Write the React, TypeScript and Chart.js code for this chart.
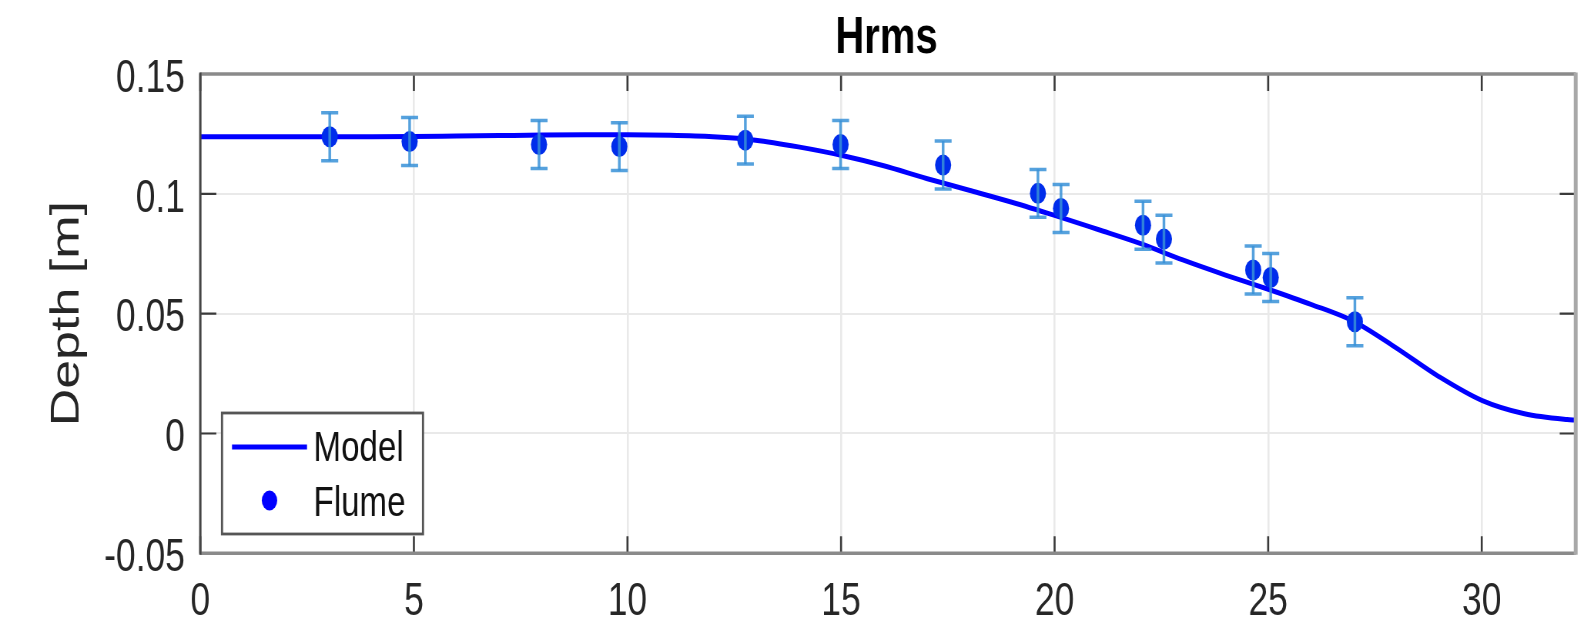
import React, { useEffect, useRef } from 'react';
import { Chart, registerables } from 'chart.js';

Chart.register(...registerables);

// ---------------- data ----------------
const TITLE = 'Hrms';
const Y_LABEL = 'Depth [m]';
const MODEL_LABEL = 'Model';
const FLUME_LABEL = 'Flume';

const modelX = [0, 1, 2, 3, 4, 5, 6, 7, 8, 9, 10, 11, 12, 13, 14, 15, 16, 17, 18, 19, 20, 21, 22, 23, 24, 25, 26, 27, 28, 29, 30, 31, 32, 32.2];
const modelY = [0.1238, 0.1238, 0.1238, 0.1238, 0.1238, 0.1239, 0.1241, 0.1243, 0.1245, 0.1246, 0.1246, 0.1244, 0.1238, 0.1224, 0.1196, 0.1161, 0.1117, 0.1064, 0.1015, 0.0965, 0.0910, 0.0852, 0.0793, 0.0724, 0.0661, 0.0602, 0.0539, 0.0468, 0.0357, 0.0237, 0.0138, 0.0082, 0.0058, 0.0056];

const flumeX = [3.03, 4.9, 7.93, 9.81, 12.76, 14.99, 17.39, 19.61, 20.15, 22.07, 22.56, 24.65, 25.06, 27.03];
const flumeY = [0.1238, 0.1218, 0.1206, 0.1197, 0.1224, 0.1206, 0.1120, 0.1002, 0.0939, 0.0869, 0.0811, 0.0682, 0.0651, 0.0466];
const flumeErr = [0.01, 0.01, 0.01, 0.01, 0.01, 0.01, 0.01, 0.01, 0.01, 0.01, 0.01, 0.01, 0.01, 0.01];

const xTicks = [0, 5, 10, 15, 20, 25, 30];
const xTickLabels = ['0', '5', '10', '15', '20', '25', '30'];
const yTicks = [-0.05, 0, 0.05, 0.1, 0.15];
const yTickLabels = ['-0.05', '0', '0.05', '0.1', '0.15'];
const xRange = [0, 32.2];
const yRange = [-0.05, 0.15];

// ---------------- layout (display pixels) ----------------
const VIEW_W = 1594;
const VIEW_H = 622;
const CANVAS_W = 2070; // drawn wider, then squeezed horizontally like the reference
const K = VIEW_W / CANVAS_W;
const sx = (v: number) => v / K;
const PLOT = { left: 200.3, right: 1575.7, top: 74, bottom: 553.3 };
const FONT = '"Liberation Sans", Arial, Helvetica, sans-serif';
const BLUE = '#0000ff';
const MARKER = 'rgb(0, 45, 235)';

function labelFor(list: number[], labels: string[], v: number) {
  const i = list.findIndex((t) => Math.abs(t - v) < 1e-9);
  return i >= 0 ? labels[i] : '';
}

const decorPlugin = {
  id: 'matlabDecor',
  afterDatasetsDraw(chart: any) {
    const ctx = chart.ctx;
    const xs = chart.scales.x;
    const ys = chart.scales.y;
    ctx.save();
    ctx.strokeStyle = 'rgba(55, 145, 215, 0.85)';
    ctx.lineCap = 'butt';
    flumeX.forEach((xv, i) => {
      const px = xs.getPixelForValue(xv);
      const top = ys.getPixelForValue(flumeY[i] + flumeErr[i]);
      const bot = ys.getPixelForValue(flumeY[i] - flumeErr[i]);
      ctx.lineWidth = 3.5;
      ctx.beginPath();
      ctx.moveTo(px, top);
      ctx.lineTo(px, bot);
      ctx.stroke();
      const hw = sx(8.5);
      ctx.lineWidth = 3.5;
      ctx.beginPath();
      ctx.moveTo(px - hw, top);
      ctx.lineTo(px + hw, top);
      ctx.moveTo(px - hw, bot);
      ctx.lineTo(px + hw, bot);
      ctx.stroke();
    });
    ctx.restore();
  },
  afterDraw(chart: any) {
    const ctx = chart.ctx;
    const a = chart.chartArea;
    const xs = chart.scales.x;
    const ys = chart.scales.y;
    ctx.save();
    ctx.lineCap = 'butt';

    // inward tick marks
    ctx.strokeStyle = '#3a3a3a';
    ctx.lineWidth = 2.6;
    xTicks.forEach((t) => {
      const px = xs.getPixelForValue(t);
      ctx.beginPath();
      ctx.moveTo(px, a.bottom);
      ctx.lineTo(px, a.bottom - 17);
      ctx.moveTo(px, a.top);
      ctx.lineTo(px, a.top + 17);
      ctx.stroke();
    });
    ctx.lineWidth = 2.2;
    yTicks.forEach((t) => {
      const py = ys.getPixelForValue(t);
      ctx.beginPath();
      ctx.moveTo(a.left, py);
      ctx.lineTo(a.left + sx(16), py);
      ctx.moveTo(a.right, py);
      ctx.lineTo(a.right - sx(16), py);
      ctx.stroke();
    });

    // axes box
    ctx.strokeStyle = '#8a8a8a';
    ctx.lineWidth = 3.5;
    ctx.beginPath();
    ctx.moveTo(a.left, a.top);
    ctx.lineTo(a.right, a.top);
    ctx.moveTo(a.left, a.bottom);
    ctx.lineTo(a.right, a.bottom);
    ctx.stroke();
    ctx.strokeStyle = '#454545';
    ctx.lineWidth = 3;
    ctx.beginPath();
    ctx.moveTo(a.left, a.top - 1.5);
    ctx.lineTo(a.left, a.bottom + 1.5);
    ctx.stroke();
    ctx.strokeStyle = '#a8a8a8';
    ctx.lineWidth = 5;
    ctx.beginPath();
    ctx.moveTo(a.right, a.top - 1.5);
    ctx.lineTo(a.right, a.bottom + 1.5);
    ctx.stroke();

    // legend
    const lx1 = sx(222), lx2 = sx(423), ly1 = 413, ly2 = 534;
    ctx.fillStyle = '#ffffff';
    ctx.fillRect(lx1, ly1, lx2 - lx1, ly2 - ly1);
    ctx.strokeStyle = '#555555';
    ctx.lineWidth = 2.8;
    ctx.strokeRect(lx1, ly1, lx2 - lx1, ly2 - ly1);
    ctx.strokeStyle = BLUE;
    ctx.lineWidth = 5;
    ctx.beginPath();
    ctx.moveTo(sx(232), 447);
    ctx.lineTo(sx(307), 447);
    ctx.stroke();
    ctx.fillStyle = BLUE;
    ctx.beginPath();
    ctx.arc(sx(269.5), 500.5, 10, 0, Math.PI * 2);
    ctx.fill();
    ctx.fillStyle = '#111111';
    ctx.font = `43px ${FONT}`;
    ctx.textAlign = 'left';
    ctx.textBaseline = 'middle';
    const ds = chart.data.datasets;
    ctx.fillText(ds[1].label, sx(313.5), 449.2);
    ctx.fillText(ds[0].label, sx(313.5), 504.5);

    // title
    ctx.fillStyle = '#000000';
    ctx.font = `bold 52px ${FONT}`;
    ctx.textAlign = 'center';
    ctx.fillText(TITLE, (a.left + a.right) / 2 - sx(1.5), 38.3);
    ctx.restore();
  },
};

export default function App() {
  const ref = useRef<HTMLCanvasElement | null>(null);

  useEffect(() => {
    document.body.style.margin = '0';
    document.body.style.overflow = 'hidden';
    const canvas = ref.current;
    if (!canvas) return;
    const chart = new Chart(canvas, {
      type: 'line',
      data: {
        datasets: [
          {
            type: 'line',
            label: FLUME_LABEL,
            data: flumeX.map((x, i) => ({ x, y: flumeY[i] })),
            showLine: false,
            pointRadius: 10.5,
            pointHoverRadius: 10.5,
            pointBorderWidth: 0,
            pointBackgroundColor: MARKER,
            pointBorderColor: MARKER,
            backgroundColor: MARKER,
            borderColor: MARKER,
            order: 0,
          },
          {
            type: 'line',
            label: MODEL_LABEL,
            data: modelX.map((x, i) => ({ x, y: modelY[i] })),
            borderColor: BLUE,
            backgroundColor: BLUE,
            borderWidth: 5,
            pointRadius: 0,
            pointHoverRadius: 0,
            cubicInterpolationMode: 'monotone',
            fill: false,
            order: 1,
          },
        ],
      },
      options: {
        animation: false,
        responsive: false,
        devicePixelRatio: 1,
        events: [],
        layout: {
          padding: { left: 0, right: CANVAS_W - sx(PLOT.right), top: PLOT.top, bottom: 0 },
        },
        plugins: {
          legend: { display: false },
          tooltip: { enabled: false },
          title: { display: false },
        },
        scales: {
          x: {
            type: 'linear',
            min: xRange[0],
            max: xRange[1],
            afterFit: (s: any) => {
              s.height = VIEW_H - PLOT.bottom;
            },
            afterBuildTicks: (s: any) => {
              s.ticks = xTicks.map((v) => ({ value: v }));
            },
            grid: { color: '#e9e9e9', lineWidth: 2.6, drawTicks: false },
            border: { display: false },
            ticks: {
              autoSkip: false,
              maxRotation: 0,
              minRotation: 0,
              padding: 21.8,
              color: '#262626',
              font: { family: FONT, size: 46 },
              callback: (v: any) => labelFor(xTicks, xTickLabels, Number(v)),
            },
          },
          y: {
            type: 'linear',
            min: yRange[0],
            max: yRange[1],
            afterFit: (s: any) => {
              s.width = sx(PLOT.left);
            },
            afterBuildTicks: (s: any) => {
              s.ticks = yTicks.map((v) => ({ value: v }));
            },
            grid: { color: '#e9e9e9', lineWidth: 2, drawTicks: false },
            border: { display: false },
            title: {
              display: true,
              text: Y_LABEL,
              color: '#262626',
              font: { family: FONT, size: 52 },
              padding: { top: 56.8, bottom: 0 },
            },
            ticks: {
              autoSkip: false,
              padding: 20,
              labelOffset: 5,
              color: '#262626',
              font: { family: FONT, size: 46 },
              callback: (v: any) => labelFor(yTicks, yTickLabels, Number(v)),
            },
          },
        },
      },
      plugins: [decorPlugin],
    } as any);
    return () => chart.destroy();
  }, []);

  return (
    <canvas
      ref={ref}
      width={CANVAS_W}
      height={VIEW_H}
      style={{ width: `${VIEW_W}px`, height: `${VIEW_H}px`, display: 'block' }}
    />
  );
}
